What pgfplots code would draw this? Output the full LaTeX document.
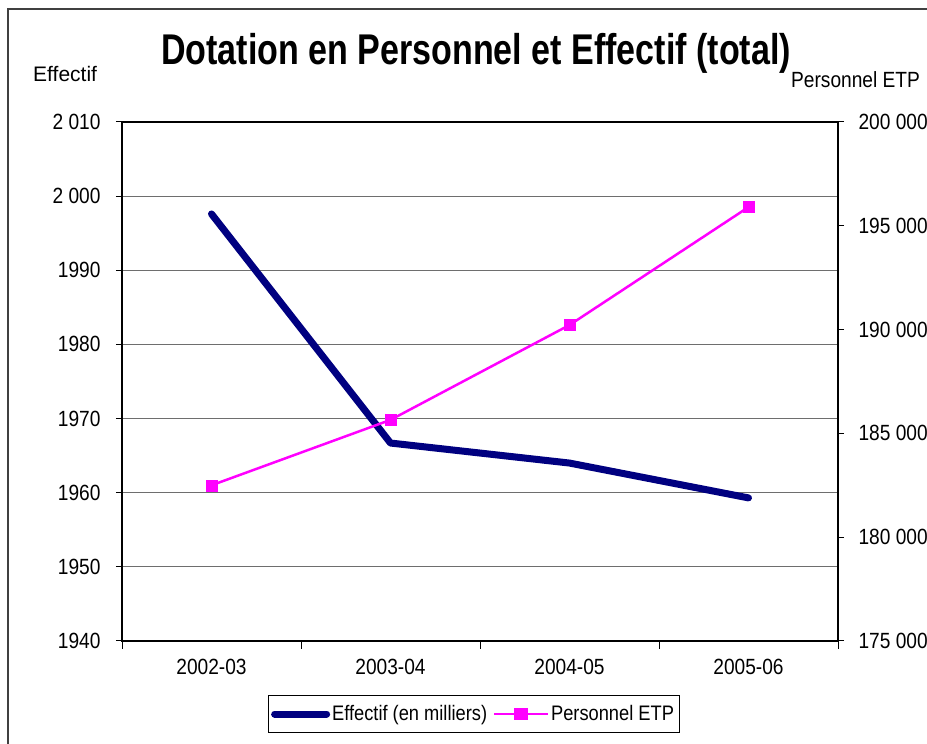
\documentclass[border=0pt]{standalone}
\usepackage{fontspec}
\setmainfont[FakeStretch=0.87]{Liberation Sans}
\newfontfamily\plainfont{Liberation Sans}
\usepackage{pgfplots}
\pgfplotsset{compat=1.18}
\definecolor{effnavy}{RGB}{0,0,128}
\definecolor{etpmag}{RGB}{255,0,255}
\definecolor{gridgray}{RGB}{110,110,110}
\newcommand{\ticksize}{\fontsize{22}{22}\selectfont}
\begin{document}
\begin{tikzpicture}
\path[use as bounding box] (0,0) rectangle (927pt,744pt);
% cadre du graphique (coupe a droite et en bas)
\draw[black!75, line width=1.5pt] (8pt,0pt) -- (8pt,735pt) -- (927pt,735pt);

% axe principal : Effectif
\begin{axis}[
  at={(122pt,103pt)}, anchor=south west,
  scale only axis, width=716pt, height=519pt,
  xmin=-0.5, xmax=3.5, ymin=1940, ymax=2010,
  xtick={0,1,2,3}, xticklabels={2002-03,2003-04,2004-05,2005-06},
  minor xtick={-0.5,0.5,1.5,2.5,3.5},
  xtick pos=bottom, ytick pos=left,
  major x tick style={draw=none},
  minor tick length=8pt, major tick length=6pt, tick align=outside,
  ytick={1940,1950,...,2010},
  yticklabels={1940,1950,1960,1970,1980,1990,2 000,2 010},
  ymajorgrids, grid style={gridgray, line width=1pt},
  axis line style={black, line width=1.2pt},
  tick style={black, line width=1pt},
  tick label style={font=\ticksize},
  xticklabel style={yshift=-9pt},
  yticklabel style={xshift=-12pt},
  clip=false,
]
\addplot[effnavy, line width=7pt, line cap=round, line join=round] coordinates {
  (0,1997.6)(1,1966.7)(2,1964.0)(3,1959.3)
};
\end{axis}

% axe secondaire : Personnel ETP
\begin{axis}[
  at={(122pt,103pt)}, anchor=south west,
  scale only axis, width=716pt, height=519pt,
  xmin=-0.5, xmax=3.5, ymin=175000, ymax=200000,
  axis x line=none, axis y line*=right,
  scaled y ticks=false,
  ytick={175000,180000,...,200000},
  yticklabels={175 000,180 000,185 000,190 000,195 000,200 000},
  major tick length=6pt, tick align=outside,
  axis line style={black, line width=1.2pt},
  tick style={black, line width=1pt},
  tick label style={font=\ticksize},
  yticklabel style={xshift=11pt},
  clip=false,
  legend style={at={(0.491,-0.1407)}, anchor=center, legend columns=2,
    draw=black, font=\fontsize{21}{21}\selectfont, inner xsep=3pt, inner ysep=8pt,
    /tikz/every even column/.append style={column sep=4pt}},
  legend cell align=left,
]
\addlegendimage{legend image code/.code={\draw[effnavy, line width=7pt, line cap=round] (0pt,0pt) -- (52pt,0pt);}}
\addlegendentry{Effectif (en milliers)}
\addplot[etpmag, line width=2.5pt, mark=square*, mark size=5.5pt, mark options={solid, line width=0.5pt},
  legend image code/.code={\draw[etpmag, line width=2pt] (0pt,0pt) -- (54pt,0pt);
    \fill[etpmag] (21.5pt,-5pt) rectangle (32.5pt,5pt);}] coordinates {
  (0,182500)(1,185650)(2,190220)(3,195900)
};
\addlegendentry{Personnel ETP}
\end{axis}

\node[anchor=base, font=\fontsize{43}{43}\selectfont\bfseries] at (476pt,679pt) {\scalebox{0.91}[1]{Dotation en Personnel et Effectif (total)}};
\node[anchor=base west, font=\fontsize{21}{21}\selectfont\plainfont, inner sep=0pt] at (33pt,662pt) {Effectif};
\node[anchor=base west, font=\fontsize{22}{22}\selectfont, inner sep=0pt] at (791pt,656pt) {Personnel ETP};
\end{tikzpicture}
\end{document}
